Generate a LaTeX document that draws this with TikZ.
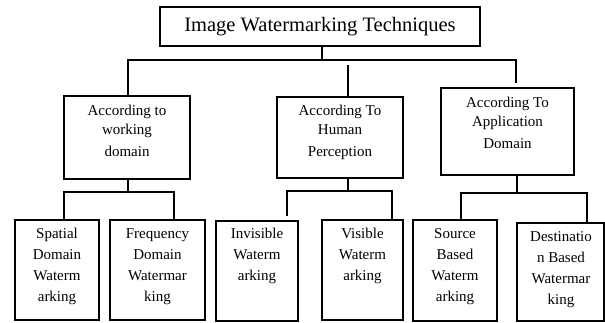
\documentclass[tikz,border=0pt]{standalone}
\usepackage{fontspec}
\setmainfont{Liberation Serif}
\begin{document}
\begin{tikzpicture}[x=1pt,y=-1pt,
  box/.style={draw, line width=1.2pt, inner sep=0pt},
  conn/.style={line width=1.2pt},
  midtxt/.style={anchor=north, align=center, inner sep=0pt, font=\fontsize{15}{19}\selectfont},
  bottxt/.style={anchor=north, align=center, inner sep=0pt, font=\fontsize{15}{21}\selectfont}]
\useasboundingbox (0,0) rectangle (605,322);
\newcommand\mkbox[5]{\node[box, minimum width={(#4-#2)*1pt}, minimum height={(#5-#3)*1pt}] (#1) at ({(#2+#4)/2},{(#3+#5)/2}) {};}
% boxes
\mkbox{top}{160}{7}{480}{46}
\mkbox{m1}{64}{96}{190}{179}
\mkbox{m2}{277}{97}{403}{178}
\mkbox{m3}{441}{88}{574}{175}
\mkbox{b1}{15}{220}{99}{320}
\mkbox{b2}{110}{220}{205}{320}
\mkbox{b3}{216}{221}{298}{321}
\mkbox{b4}{322}{220}{403}{320}
\mkbox{b5}{413}{220}{497}{321}
\mkbox{b6}{517}{223}{604}{321}
% texts
\node[inner sep=0pt, font=\fontsize{20.5}{22}\selectfont] (ttop) at (top) {Image Watermarking Techniques};
\node[midtxt] (tm1) at (127,105) {According to\\working\\[3pt]domain};
\node[midtxt] (tm2) at (340,105) {According To\\Human\\[3pt]Perception};
\node[midtxt] (tm3) at (507.5,97) {According To\\Application\\[3pt]Domain};
\node[bottxt] (tb1) at (57,228) {Spatial\\Domain\\Waterm\\arking};
\node[bottxt] (tb2) at (157.5,228) {Frequency\\Domain\\Watermar\\king};
\node[bottxt] (tb3) at (257,228) {Invisible\\Waterm\\arking};
\node[bottxt] (tb4) at (362.5,228) {Visible\\Waterm\\arking};
\node[bottxt] (tb5) at (455,228) {Source\\Based\\Waterm\\arking};
\node[bottxt] (tb6) at (561,231) {Destinatio\\n Based\\Watermar\\king};
% level 1 connectors
\coordinate (v0) at (322,60);
\coordinate (hl) at (128,60);
\coordinate (hr) at (516,60);
\coordinate (rend) at (516,83);
\coordinate (v1) at (348,65);
\draw[conn] (v0 |- top.south) -- (v0);
\draw[conn] (hl |- m1.north) -- (hl) -- (hr) -- (rend);
\draw[conn] (v1) -- (v1 |- m2.north);
% level 2 left
\coordinate (v1b) at (128,192);
\coordinate (d1) at (64,192);
\coordinate (d2) at (174,192);
\draw[conn] (v1b |- m1.south) -- (v1b);
\draw[conn] (d1 |- b1.north) -- (d1) -- (d2) -- (d2 |- b2.north);
% level 2 middle
\coordinate (v2) at (348,191);
\coordinate (d3) at (287,191);
\coordinate (d3e) at (287,216);
\coordinate (d4) at (392,191);
\draw[conn] (v2 |- m2.south) -- (v2);
\draw[conn] (d3e) -- (d3) -- (d4) -- (d4 |- b4.north);
% level 2 right
\coordinate (v3) at (517,193);
\coordinate (d5) at (461,193);
\coordinate (d6) at (587,193);
\draw[conn] (v3 |- m3.south) -- (v3);
\draw[conn] (d5 |- b5.north) -- (d5) -- (d6) -- (d6 |- b6.north);
\end{tikzpicture}
\end{document}
